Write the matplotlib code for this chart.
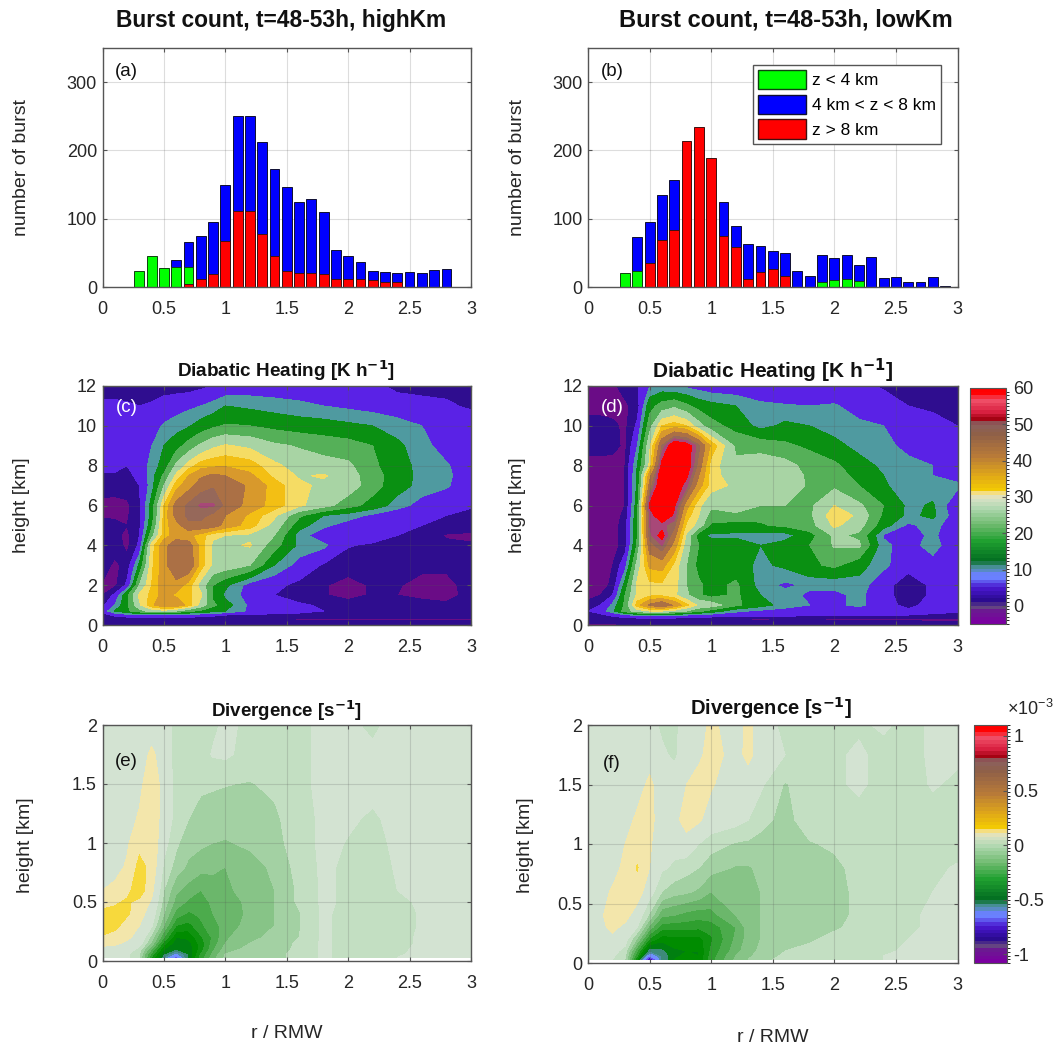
"""
plot.py
Burst counts, diabatic heating and divergence, highKm vs lowKm (6 panels + 2 colorbars)
"""
import matplotlib
matplotlib.use("Agg")
import matplotlib.pyplot as plt
import matplotlib.patches as mpatches
from matplotlib.colors import BoundaryNorm, LinearSegmentedColormap
from matplotlib.cm import ScalarMappable
import numpy as np

plt.rcParams["font.family"] = ["Liberation Sans", "DejaVu Sans"]
plt.rcParams["mathtext.default"] = "regular"

W, H = 1056, 1048

# ── burst counts ────────────────────────────────────────────────────────────
R_A = [0.3 + 0.1 * i for i in range(26)]
BLUE_A = [0, 0, 0, 40, 66, 74, 95, 149, 250, 250, 212, 173, 147, 124, 129, 110,
          54, 45, 36, 24, 22, 20, 22, 20, 25, 27]
GREEN_A = [24, 45, 28, 29, 30, 0, 0, 0, 0, 0, 0, 0, 0, 0, 0, 0,
           0, 0, 0, 0, 0, 0, 0, 0, 0, 0]
RED_A = [0, 0, 0, 0, 5, 11, 19, 68, 111, 111, 78, 45, 24, 20, 21, 19,
         11, 12, 11, 10, 8, 8, 0, 0, 0, 0]

R_B = [0.3 + 0.1 * i for i in range(27)]
BLUE_B = [0, 73, 95, 135, 157, 0, 0, 0, 124, 89, 63, 60, 53, 50, 23, 16,
          47, 42, 47, 32, 44, 13, 14, 8, 8, 15, 2]
GREEN_B = [20, 24, 15, 0, 0, 0, 0, 0, 0, 0, 0, 0, 0, 0, 0, 0,
           7, 10, 12, 9, 0, 0, 0, 0, 0, 0, 0]
RED_B = [0, 0, 35, 69, 84, 214, 234, 189, 74, 58, 12, 22, 26, 16, 0, 0,
         0, 0, 0, 0, 0, 0, 0, 0, 0, 0, 0]

# ── heating fields ──────────────────────────────────────────────────────────
R_HEAT = [0, .1, .2, .3, .4, .5, .6, .7, .8, .9, 1, 1.2, 1.4, 1.6, 1.8, 2, 2.2, 2.4, 2.6, 2.8, 3]
Z_HEAT = [0, .3, .5, .7, 1, 1.5, 2, 3, 4, 4.5, 5, 5.5, 6, 7, 7.5, 8, 9, 10, 11, 12]
HEAT_C = [
    [.5] * 21,
    [-1.5, 0, 0, .5, .5, .5, .5, .5, .5, .5, .5, .5, 0, -1.5, -1.5, -1.5, -1.5, -1.5, -1.5, -1.5, -1.5],
    [1, 4, 6, 7, 7, 7, 6.5, 6, 5, 4, 3, 2, 2, 1.5, 1.5, 1.5, 1, 1, 1, 1, 1],
    [5, 12, 16, 20, 24, 25, 22, 18, 16, 14, 12, 7, 5.5, 4.5, 3, 2.5, 2, 2, 2, 2, 2],
    [2, 8, 16, 26, 34, 39, 39, 33, 25, 18, 14, 7, 5, 3.5, 2.5, 1.5, 1, 1, -1.2 + 2.4, -.2, 1],
    [-1, 4, 16, 28, 32, 37, 34, 32, 28, 16, 11, 6, 3, 1.5, -.5, -3, -.3, -1, -2.5, -2.5, .5],
    [-1.5, -2, 4, 22, 31, 38, 38, 33, 25, 17, 13, 6, 4, 2, -.5, -3, -.3, -.5, -3, -2.5, 1],
    [1, -2, .5, 13, 30, 38, 45, 45, 33, 26, 25, 22, 12, 6, 2.5, 1.5, 1, 1, .5, 0, .5],
    [1, 1, -2, 4, 29, 38, 44, 43, 33, 26, 26, 27.5, 19, 11, 9, 3.2, 2.5, 3, 2, 0, -.5],
    [1, 0, -2, 3, 20, 33, 37, 36, 33, 28, 27, 26, 22, 10, 5, 5, 4.5, 3, 2, -1.5, -2],
    [2, .5, -1, 2, 16, 33, 38, 44, 44, 43, 38, 33, 25, 14, 9, 6, 5, 4.5, 3, 2, 1.5],
    [-2, -2, -1.5, 2, 14, 32, 42, 46, 46, 44, 40, 34, 28, 18, 12, 10, 7, 4.5, 3.5, 3, 2.5],
    [-3, -3, -2, 2, 14, 31, 42, 46, 48.5, 48.5, 44, 38, 33, 28, 24, 19, 15, 10, 6, 5, 3.2],
    [2, 1.5, 1.5, 3, 10, 22, 33, 38, 43, 44.5, 44, 39, 33, 28, 26, 25, 19, 14, 10.5, 8.5, 5],
    [2.5, 2.5, 2, 4, 10, 18, 28, 35, 39, 41, 40, 36, 30, 26.5, 27.5, 24.5, 19, 14.5, 10.5, 9, 5],
    [4, 4, 3, 5, 9.5, 14, 23, 29, 33, 34, 34.5, 33, 28, 25, 24, 23, 18, 14, 10.5, 8.5, 5],
    [4, 4, 4, 5.5, 8, 12, 15, 19, 23, 26, 27.5, 26, 23, 21.5, 20, 19, 17, 13, 9.5, 6, 5],
    [4, 4, 4, 5, 6, 8.5, 10, 11.5, 14, 16, 17.5, 17, 15.5, 14.5, 14, 13, 12, 10, 8, 6, 5],
    [4, 4, 3.5, 3, 3.5, 5, 6, 7, 8, 9.5, 12, 11, 10, 9, 8, 7, 6, 5, 4, 3.5, 2.5],
    [1, 1, 1, 1, 1, 1, 1, 1, 2, 3, 4, 5, 5, 5, 5, 5, 4, 2, 2, 2, 2],
]
HEAT_D = [
    [-1.5, -1.5, -1.5, -1, -1, .5, .5, .5, .5, .5, .5, .5, .5, .5, .5, .5, .5, .5, .5, .5, .5],
    [0, 0, .5, 1, 1, 1.5, 1.5, 1, 1, .5, 0, -1, -1.5, -1, -1, -1.5, -1.5, -1.5, -1.5, -2, -2],
    [.5, 2, 4, 7, 9, 10, 10, 9, 8, 7, 6, 5, 5, 4.5, 4, 4, 3.5, 3, 3, 2.5, 2],
    [3, 5, 11, 19, 25, 27, 27, 25, 22, 18, 15, 9, 7, 6, 6, 6, 5, 5, 4, 4, 3.5],
    [1, 3, 9, 18, 33, 41, 45, 39, 32, 26, 25, 18, 14, 10, 8, 7, 9, 5, 1.5, 5, 5],
    [-3, -1, 3, 17, 28, 30, 30, 28, 23, 18, 15, 18, 12, 10, 7, 7, 9, 5, 0, 4, 4],
    [-3, -3, 0, 14, 28, 30, 30, 29, 22, 18, 15, 18, 10, 7, 9, 9, 10, 5, 0, 4, 4],
    [-3, -3, -1, 6, 24, 36, 37, 30, 22, 15, 14, 14, 11, 13, 16, 18, 14, 9, 5, 6, 4],
    [-3, -3, -3, 1, 18, 43, 48, 38, 24, 17, 14, 14.5, 12, 14, 17, 22.5, 23, 9, 6, 10, 4],
    [-3, -3, -3, 1, 17, 47, 53, 42, 26, 14, 11, 11, 10, 10, 15, 23, 21, 7.5, 6, 9, 4],
    [-3, -3, -3, 1, 17, 48, 49, 46, 30, 25, 16, 15, 16.5, 18, 20, 28, 24, 14, 7, 10, 4],
    [-3, -3, -3, 0, 16, 48, 56, 50, 33, 27, 20, 20, 18, 20, 21, 30, 26, 16, 11, 13, 5],
    [-3, -3, -3, -1, 15, 52, 57, 52, 37, 28, 23, 27, 22, 22, 21, 27, 23, 17, 11, 12.5, 4],
    [-3, -3, -3, -1, 13, 42, 57, 55, 49, 37, 29, 26, 26, 26, 21, 21, 17, 12.5, 10, 10, 9],
    [-3, -3, -3, -1, 13, 38, 56, 58, 52, 40, 29, 24, 25, 25, 21, 20, 15, 12, 9.5, 8, 6],
    [-3, -3, -3, -1, 12, 28, 53, 58, 55, 43, 29, 23, 25, 24, 20, 18, 14, 11, 9, 8, 5.5],
    [1, 1, .5, -2, 8, 26, 45, 56, 54, 46, 34, 21, 20, 18, 16, 13.5, 10.5, 9, 7, 5, 3],
    [1, 1, 0, -2, 4, 20, 31, 33, 31, 24, 19, 15, 10.5, 13, 12, 10, 9, 8, 5, 4, 3],
    [-3, -3, -3, -2, 1, 15, 19, 21, 18, 15, 13.5, 12, 9.5, 8.5, 8, 8.5, 6, 5, 3, 2.5, 2],
    [-3, -3, -2, 1, 2.5, 8, 9, 8, 7, 6, 5, 4.5, 2.5, 2.5, 4, 4, 4, 2.5, 2, 2, 2],
]

# ── divergence fields (x 1e-3) ──────────────────────────────────────────────
R_E = R_HEAT
Z_E = [.03, .06, .1, .15, .2, .3, .4, .5, .6, .8, 1, 1.2, 1.5, 1.75, 2]
DIV_E = [
    [0, 0, -.04, -.1, -.35, -.55, -.74, -.5, -.33, -.22, -.14, -.12, -.11, -.09, -.04, -.07, -.07, -.05, -.04, -.03, -.03],
    [0, 0, -.04, -.1, -.32, -.5, -.62, -.5, -.35, -.24, -.15, -.12, -.11, -.09, -.04, -.07, -.07, -.055, -.04, -.03, -.03],
    [.01, .01, -.01, -.07, -.25, -.45, -.5, -.49, -.38, -.26, -.18, -.13, -.12, -.09, -.04, -.07, -.07, -.06, -.04, -.03, -.03],
    [.05, .04, .02, -.02, -.16, -.38, -.48, -.47, -.38, -.28, -.2, -.15, -.13, -.09, -.04, -.07, -.08, -.07, -.04, -.03, -.03],
    [.09, .07, .04, .01, -.12, -.3, -.45, -.44, -.36, -.29, -.21, -.16, -.14, -.1, -.04, -.07, -.08, -.07, -.04, -.03, -.03],
    [.15, .12, .07, .03, -.04, -.2, -.35, -.37, -.31, -.27, -.23, -.18, -.15, -.105, -.04, -.07, -.08, -.07, -.045, -.03, -.03],
    [.12, .12, .11, .06, -.01, -.15, -.27, -.31, -.29, -.25, -.23, -.19, -.15, -.105, -.04, -.07, -.08, -.07, -.045, -.03, -.03],
    [.07, .09, .11, .08, .02, -.12, -.22, -.26, -.27, -.24, -.22, -.19, -.15, -.09, -.04, -.06, -.08, -.065, -.04, -.03, -.03],
    [.03, .05, .08, .14, .05, -.1, -.19, -.22, -.25, -.22, -.21, -.18, -.15, -.09, -.04, -.06, -.08, -.05, -.03, -.03, -.03],
    [0, 0, .04, .12, .08, -.06, -.12, -.16, -.18, -.19, -.2, -.17, -.14, -.08, -.04, -.06, -.07, -.045, -.03, -.03, -.03],
    [0, 0, .02, .08, .09, -.03, -.09, -.13, -.14, -.15, -.155, -.14, -.12, -.07, -.04, -.052, -.065, -.04, -.03, -.03, -.03],
    [0, 0, 0, .04, .09, -.01, -.07, -.1, -.12, -.12, -.125, -.12, -.11, -.07, -.04, -.045, -.055, -.04, -.03, -.03, -.03],
    [0, 0, 0, .01, .08, 0, -.07, -.08, -.09, -.095, -.098, -.103, -.09, -.06, -.04, -.04, -.04, -.03, -.03, -.03, -.03],
    [-.02, -.02, -.02, -.02, .05, -.02, -.07, -.07, -.07, -.045, -.04, -.07, -.08, -.06, -.04, -.04, -.04, -.03, -.03, -.03, -.03],
    [-.02, -.02, -.02, -.02, -.02, -.02, -.07, -.07, -.07, -.06, -.04, -.06, -.07, -.06, -.04, -.04, -.06, -.03, -.03, -.03, -.03],
]
R_F = [0, .1, .2, .3, .4, .5, .6, .7, .8, .9, 1, 1.2, 1.3, 1.4, 1.6, 1.8, 2, 2.2, 2.4, 2.6, 2.8, 3]
Z_F = [.03, .06, .1, .2, .3, .4, .6, .8, 1, 1.2, 1.5, 1.75, 2]
DIV_F = [
    [-.01, -.02, -.05, -.1, -.4, -.9, -.55, -.45, -.44, -.45, -.32, -.19, -.15, -.12, -.08, -.07, -.06, -.06, -.05, -.04, -.03, -.03],
    [-.01, -.01, -.04, -.09, -.35, -.7, -.55, -.46, -.44, -.45, -.33, -.2, -.16, -.13, -.09, -.07, -.065, -.06, -.05, -.04, -.03, -.03],
    [-.01, -.01, -.03, -.07, -.3, -.55, -.52, -.46, -.45, -.45, -.34, -.22, -.17, -.14, -.1, -.08, -.07, -.065, -.06, -.04, -.03, -.03],
    [0, 0, .01, -.02, -.16, -.36, -.43, -.42, -.42, -.42, -.36, -.24, -.18, -.15, -.125, -.11, -.08, -.07, -.06, -.05, -.04, -.03],
    [0, .01, .05, .01, -.05, -.22, -.33, -.33, -.33, -.34, -.33, -.25, -.18, -.15, -.13, -.12, -.11, -.08, -.07, -.06, -.04, -.03],
    [-.01, .02, .06, .06, -.01, -.11, -.24, -.25, -.27, -.28, -.27, -.2, -.17, -.15, -.13, -.12, -.115, -.09, -.07, -.06, -.04, -.03],
    [-.01, 0, .04, .09, .07, -.02, -.1, -.13, -.14, -.16, -.2, -.19, -.17, -.15, -.13, -.12, -.115, -.09, -.07, -.07, -.05, -.035],
    [-.01, -.01, 0, .05, .105, .03, -.04, -.06, -.08, -.1, -.13, -.155, -.155, -.14, -.13, -.12, -.115, -.08, -.07, -.07, -.06, -.045],
    [-.01, -.01, -.01, .03, .07, .04, -.02, -.03, -.01, -.05, -.08, -.105, -.11, -.12, -.125, -.105, -.09, -.07, -.07, -.07, -.07, -.07],
    [-.02, -.02, -.02, -.01, .05, .06, -.02, 0, .07, .04, -.01, -.03, -.05, -.08, -.12, -.07, -.07, -.07, -.07, -.07, -.07, -.07],
    [-.02, -.02, -.02, -.02, -.01, .05, -.02, -.02, .03, .07, .04, -.03, -.03, -.04, -.105, -.07, -.06, -.04, -.07, -.07, -.045, -.06],
    [-.03, -.03, -.03, -.03, -.02, -.01, -.04, -.06, -.02, .01, .07, -.01, .06, -.02, -.05, -.07, -.06, -.04, -.07, -.07, -.04, -.04],
    [-.03, -.03, -.03, -.03, -.03, -.03, -.06, -.06, -.03, -.01, .05, -.02, .06, -.03, -.06, -.07, -.07, -.06, -.04, -.07, -.04, -.04],
]

# ── colours ─────────────────────────────────────────────────────────────────
HEAT_LEVELS = [-1, 3, 8, 12, 17, 22, 27, 31, 35, 40, 45, 48, 51]
HEAT_COLORS = ["#6a0c86", "#2f0d8f", "#5a22e6", "#4f9aa0", "#0a9012", "#55b058", "#a8d4a4",
               "#f5dc64", "#f3bf14", "#d8992c", "#ab7045", "#96685a", "#a84878", "#ff0000"]
DIV_LEVELS = [-1, -.9, -.8, -.7, -.6, -.55, -.5, -.45, -.4, -.35, -.3, -.25, -.2, -.15, -.1, -.05, .03, .1, .2]
DIV_COLORS = ["#6a0c86", "#200a90", "#4010c8", "#6a50f0", "#7090ff", "#4f8fa8", "#3d8a7a",
              "#007f10", "#008c00", "#0f930f", "#2f9f2f", "#4cab4c", "#6bb76b", "#87c487",
              "#a3d1a3", "#c3dfc2", "#d3e3d2", "#f3e6ab", "#f7d93c", "#f3bf14"]

BAR_ANCHORS = [(0, "#7a00a0"), (.05, "#6a1a90"), (.06, "#6a4a80"), (.096, "#2a0a90"), (.15, "#4a18d0"),
               (.19, "#6a80ff"), (.205, "#6a80ff"), (.23, "#5090a8"), (.25, "#3a8a7a"), (.258, "#006a20"),
               (.35, "#20a030"), (.42, "#70bb70"), (.49, "#b0d8b0"), (.535, "#dce2c8"), (.555, "#f5e090"),
               (.56, "#f5d000"), (.63, "#e0a818"), (.715, "#b87a38"), (.81, "#8f6048"), (.855, "#8a6060"),
               (.87, "#a00010"), (.905, "#d82040"), (.955, "#f05068"), (.985, "#ff0000"), (1, "#ff0000")]
BAR_CMAP = LinearSegmentedColormap.from_list("bar", BAR_ANCHORS, N=64)

TEXT = "#262626"
EDGE = "#555555"


def axes_px(x0, y0, x1, y1):
    """axes from pixel box, y counted from the top"""
    return fig.add_axes([x0 / W, 1 - y1 / H, (x1 - x0) / W, (y1 - y0) / H])


def style(ax, ylim, yticks):
    ax.set_xlim(0, 3)
    ax.set_ylim(*ylim)
    ax.set_xticks([0, .5, 1, 1.5, 2, 2.5, 3])
    ax.set_xticklabels(["0", "0.5", "1", "1.5", "2", "2.5", "3"])
    ax.set_yticks(yticks)
    ax.set_yticklabels([f"{t:g}" for t in yticks])
    ax.tick_params(direction="in", top=True, right=True, length=3, width=.8,
                   labelsize=13, colors=EDGE, labelcolor=TEXT, pad=4)
    ax.tick_params(axis="x", pad=10)
    ax.grid(True, color="#555555", alpha=.2, linewidth=.8)
    ax.set_axisbelow(False)
    for s in ax.spines.values():
        s.set_color(EDGE)
        s.set_linewidth(1.0)
        s.set_zorder(10)


def label(x, y, s, **kw):
    kw.setdefault("ha", "center")
    kw.setdefault("va", "center")
    kw.setdefault("color", "#111111")
    fig.text(x / W, 1 - y / H, s, **kw)


fig = plt.figure(figsize=(W / 100, H / 100), dpi=100)

LEFT = (102.5, 471)
RIGHT = (588, 957.5)

# ── row 1 : bars ────────────────────────────────────────────────────────────
for (x0, x1), r, blue, green, red, tag in [(LEFT, R_A, BLUE_A, GREEN_A, RED_A, "(a)"),
                                           (RIGHT, R_B, BLUE_B, GREEN_B, RED_B, "(b)")]:
    ax = axes_px(x0, 48, x1, 287)
    ax.bar(r, blue, width=.08, color="#0000ff", edgecolor="#101030", linewidth=.7, zorder=3)
    ax.bar(r, green, width=.08, color="#00ff00", edgecolor="#104010", linewidth=.7, zorder=4)
    ax.bar(r, red, width=.08, color="#ff0000", edgecolor="#401010", linewidth=.7, zorder=5)
    style(ax, (0, 350), [0, 100, 200, 300])
    ax.set_axisbelow(True)
    label(x0 + 24, 71, tag, fontsize=13.5)
    if tag == "(b)":
        handles = [mpatches.Patch(facecolor="#00ff00", edgecolor="#104010", label="z < 4 km"),
                   mpatches.Patch(facecolor="#0000ff", edgecolor="#101030", label="4 km < z < 8 km"),
                   mpatches.Patch(facecolor="#ff0000", edgecolor="#401010", label="z > 8 km")]
        leg = ax.legend(handles=handles, loc="upper left", bbox_to_anchor=((753 - x0) / (x1 - x0), (287 - 65) / 239),
                        fontsize=12.5, fancybox=False, framealpha=1, edgecolor=EDGE, borderaxespad=0,
                        borderpad=.28, labelspacing=.3, handlelength=2.75, handleheight=1.35, handletextpad=.35)
        leg.set_zorder(20)

# ── row 2 : heating ─────────────────────────────────────────────────────────
for (x0, x1), field, tag in [(LEFT, HEAT_C, "(c)"), (RIGHT, HEAT_D, "(d)")]:
    ax = axes_px(x0, 386, x1, 625)
    ax.contourf(R_HEAT, Z_HEAT, np.array(field), levels=HEAT_LEVELS, colors=HEAT_COLORS, extend="both")
    style(ax, (0, 12), [0, 2, 4, 6, 8, 10, 12])
    label(x0 + 24, 408, tag, fontsize=13.5, color="white")

# ── row 3 : divergence ──────────────────────────────────────────────────────
for (x0, x1), rr, zz, field, tag, bot, ty in [(LEFT, R_E, Z_E, DIV_E, "(e)", 961, 762),
                                              (RIGHT, R_F, Z_F, DIV_F, "(f)", 963, 763)]:
    ax = axes_px(x0, 725, x1, bot)
    ax.contourf(rr, zz, np.array(field), levels=DIV_LEVELS, colors=DIV_COLORS, extend="both")
    style(ax, (0, 2), [0, .5, 1, 1.5, 2])
    label(x0 + 24, ty, tag, fontsize=13.5)

# ── colorbars ───────────────────────────────────────────────────────────────
cax = axes_px(970, 388, 1006, 624)
cb = fig.colorbar(ScalarMappable(norm=BoundaryNorm(np.linspace(-5, 60, 65), 64), cmap=BAR_CMAP),
                  cax=cax, spacing="proportional", drawedges=False)
cb.set_ticks([0, 10, 20, 30, 40, 50, 60])
cb.set_ticklabels(["0", "10", "20", "30", "40", "50", "60"])
cax.tick_params(labelsize=13, labelcolor=TEXT, length=3, direction="in", colors=EDGE, pad=5)
cb.outline.set_edgecolor(EDGE)

cax = axes_px(974, 725, 1006.5, 963)
cb = fig.colorbar(ScalarMappable(norm=BoundaryNorm(np.linspace(-1.08, 1.1, 65), 64), cmap=BAR_CMAP),
                  cax=cax, spacing="proportional", drawedges=False)
cb.set_ticks([-1, -.5, 0, .5, 1])
cb.set_ticklabels(["-1", "-0.5", "0", "0.5", "1"])
cax.tick_params(labelsize=13, labelcolor=TEXT, length=3, direction="in", colors=EDGE, pad=5)
cb.outline.set_edgecolor(EDGE)
label(1030, 709, r"$\times10^{-3}$", fontsize=13, color=TEXT)

# ── titles & axis labels ────────────────────────────────────────────────────
label(281, 20, "Burst count, t=48-53h, highKm", fontsize=16.4, fontweight="bold")
label(786, 20, "Burst count, t=48-53h, lowKm", fontsize=17, fontweight="bold")
label(286, 371, r"Diabatic Heating [K h$^{\mathbf{-1}}$]", fontsize=13.6, fontweight="bold")
label(772, 371, r"Diabatic Heating [K h$^{\mathbf{-1}}$]", fontsize=15, fontweight="bold")
label(286, 711, r"Divergence [s$^{\mathbf{-1}}$]", fontsize=13.5, fontweight="bold")
label(771, 708, r"Divergence [s$^{\mathbf{-1}}$]", fontsize=14.5, fontweight="bold")

for x, y, s in [(22, 168, "number of burst"), (517, 168, "number of burst"),
                (22, 505, "height [km]"), (517, 505, "height [km]"),
                (25, 845, "height [km]"), (525, 845, "height [km]")]:
    label(x, y, s, rotation=90, fontsize=14, color=TEXT)
label(287, 1033, "r / RMW", fontsize=14, color=TEXT)
label(773, 1037, "r / RMW", fontsize=14, color=TEXT)

fig.savefig("out.png", dpi=100)
